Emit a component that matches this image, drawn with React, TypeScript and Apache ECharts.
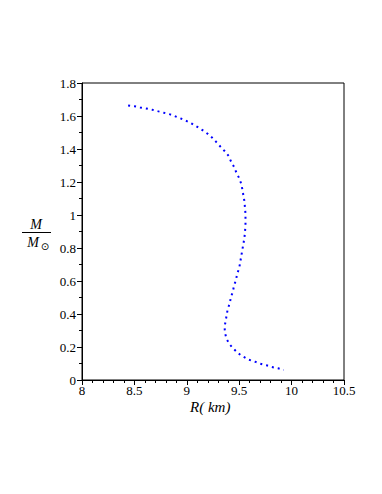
import React, { useEffect, useRef } from "react";
import * as echarts from "echarts";

const radiusKm: number[] = [
  8.44, 8.5, 8.555, 8.61, 8.67, 8.73, 8.78, 8.84, 8.89, 8.95, 9.0, 9.05, 9.105, 9.15, 9.2, 9.24, 9.28, 9.32,
  9.36, 9.4, 9.42, 9.45, 9.47, 9.5, 9.52, 9.53, 9.54, 9.55, 9.555, 9.56, 9.56, 9.56, 9.555, 9.55, 9.54, 9.53,
  9.52, 9.51, 9.5, 9.48, 9.47, 9.45, 9.44, 9.42, 9.41, 9.39, 9.38, 9.37, 9.36, 9.365, 9.38, 9.41, 9.45, 9.49,
  9.54, 9.59, 9.65, 9.7, 9.76, 9.81, 9.87, 9.925,
];
const massSolar: number[] = [
  1.664, 1.659, 1.652, 1.646, 1.638, 1.628, 1.62, 1.61, 1.598, 1.583, 1.569, 1.553, 1.532, 1.514, 1.492, 1.47,
  1.443, 1.415, 1.388, 1.357, 1.327, 1.293, 1.262, 1.223, 1.188, 1.156, 1.119, 1.083, 1.044, 1.008, 0.971,
  0.935, 0.898, 0.862, 0.825, 0.789, 0.752, 0.715, 0.678, 0.642, 0.607, 0.571, 0.536, 0.5, 0.465, 0.428,
  0.392, 0.355, 0.321, 0.284, 0.248, 0.215, 0.187, 0.162, 0.141, 0.123, 0.111, 0.099, 0.089, 0.079, 0.071,
  0.061,
];

const SERIF = "'Liberation Serif', 'DejaVu Serif', serif";

export default function App() {
  const ref = useRef<HTMLDivElement>(null);
  useEffect(() => {
    if (!ref.current) return;
    const chart = echarts.init(ref.current, null, { renderer: "svg" });
    const data = radiusKm.map((r, i) => [r, massSolar[i]]);
    chart.setOption({
      animation: false,
      backgroundColor: "#ffffff",
      grid: {
        left: 82,
        right: 38,
        top: 83,
        bottom: 114,
        show: true,
        borderColor: "#000",
        borderWidth: 1,
        containLabel: false,
      },
      xAxis: {
        type: "value",
        min: 8,
        max: 10.5,
        interval: 0.5,
        axisLine: { show: true, lineStyle: { color: "#000", width: 1 } },
        axisTick: { show: true, length: 5, lineStyle: { color: "#000" } },
        minorTick: { show: true, splitNumber: 5, length: 3, lineStyle: { color: "#000" } },
        splitLine: { show: false },
        axisLabel: { color: "#000", fontFamily: SERIF, fontSize: 13, margin: 4 },
      },
      yAxis: {
        type: "value",
        min: 0,
        max: 1.8,
        interval: 0.2,
        axisLine: { show: true, lineStyle: { color: "#000", width: 1 } },
        axisTick: { show: true, length: 5, lineStyle: { color: "#000" } },
        minorTick: { show: true, splitNumber: 2, length: 3, lineStyle: { color: "#000" } },
        splitLine: { show: false },
        axisLabel: { color: "#000", fontFamily: SERIF, fontSize: 13, margin: 6 },
      },
      graphic: [
        {
          type: "text",
          left: 190,
          top: 399,
          style: {
            text: "R( km)",
            font: `italic 15px ${SERIF}`,
            fill: "#000",
          },
        },
        {
          type: "text",
          x: 36,
          y: 224,
          style: {
            text: "M",
            font: `italic 14px ${SERIF}`,
            fill: "#000",
            align: "center",
            verticalAlign: "middle",
          },
        },
        {
          type: "line",
          shape: { x1: 22, y1: 232.5, x2: 51, y2: 232.5 },
          style: { stroke: "#000", lineWidth: 1 },
        },
        {
          type: "text",
          x: 33,
          y: 242,
          style: {
            text: "M",
            font: `italic 14px ${SERIF}`,
            fill: "#000",
            align: "center",
            verticalAlign: "middle",
          },
        },
        {
          type: "text",
          x: 45,
          y: 246,
          style: {
            text: "\u2299",
            font: `10px 'DejaVu Sans', sans-serif`,
            fill: "#000",
            align: "center",
            verticalAlign: "middle",
          },
        },
      ],
      series: [
        {
          type: "line",
          data,
          showSymbol: false,
          smooth: false,
          lineStyle: { color: "#0000ff", width: 2, type: [2, 4] },
        },
      ],
    });
    return () => chart.dispose();
  }, []);
  return (
    <div
      ref={ref}
      style={{ position: "absolute", left: 0, top: 0, width: 382, height: 494 }}
    />
  );
}
